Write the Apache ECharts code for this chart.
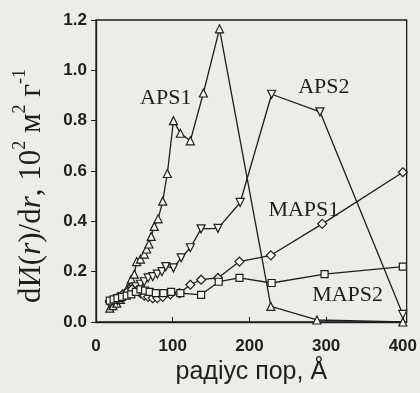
<!DOCTYPE html>
<html>
<head>
<meta charset="utf-8">
<script src="https://cdn.jsdelivr.net/npm/echarts@6/dist/echarts.min.js"></script>
<style>
  html, body { margin: 0; padding: 0; background: #ececea; }
  #chart { width: 420px; height: 393px; }
</style>
</head>
<body>
<div id="chart"></div>
<script>
// радіус пор (Å) vs dV(r)/dr
const aps1 = [[18, 0.055], [22, 0.065], [27, 0.075], [32, 0.09], [37, 0.11], [42, 0.14], [46, 0.17], [50, 0.19],
  [53, 0.24], [58, 0.25], [63, 0.27], [66, 0.29], [69, 0.31], [72, 0.34], [76, 0.38], [81, 0.41], [87, 0.48],
  [93, 0.59], [101, 0.8], [110, 0.75], [123, 0.72], [140, 0.91], [161, 1.165], [228, 0.062], [288, 0.008], [400, 0.0]];
const aps2 = [[18, 0.07], [23, 0.08], [28, 0.085], [34, 0.095], [40, 0.11], [46, 0.13], [52, 0.14], [58, 0.15],
  [63, 0.16], [68, 0.175], [74, 0.18], [80, 0.19], [86, 0.2], [91, 0.22], [101, 0.215], [111, 0.255], [123, 0.295],
  [137, 0.37], [159, 0.372], [188, 0.475], [229, 0.905], [292, 0.835], [400, 0.03]];
const maps1 = [[18, 0.08], [23, 0.09], [29, 0.1], [35, 0.11], [41, 0.12], [47, 0.13], [53, 0.125], [58, 0.115],
  [63, 0.105], [68, 0.1], [74, 0.095], [80, 0.095], [87, 0.1], [97, 0.11], [109, 0.115], [123, 0.148], [137, 0.168],
  [159, 0.175], [187, 0.24], [228, 0.265], [295, 0.39], [400, 0.595]];
const maps2 = [[18, 0.085], [23, 0.09], [28, 0.095], [34, 0.1], [40, 0.105], [46, 0.11], [52, 0.12], [58, 0.13],
  [64, 0.125], [70, 0.12], [78, 0.115], [88, 0.115], [98, 0.12], [110, 0.115], [137, 0.108], [160, 0.16],
  [187, 0.175], [229, 0.155], [298, 0.19], [400, 0.22]];
// where the series names are written (data coords)
const labelPos = { APS1: [91, 0.89], APS2: [297, 0.934], MAPS1: [271, 0.445], MAPS2: [328, 0.107] };

const ink = '#1e1e1e';

function makeSeries(name, data, symbol, size, rotate) {
  return {
    name: name,
    type: 'line',
    data: data,
    symbol: symbol,
    symbolSize: size,
    symbolRotate: rotate || 0,
    showAllSymbol: true,
    lineStyle: { color: ink, width: 1.3 },
    itemStyle: { color: '#f4f4f2', borderColor: ink, borderWidth: 1.2 },
    markPoint: {
      symbol: 'circle',
      symbolSize: 1,
      silent: true,
      itemStyle: { color: 'rgba(0,0,0,0)', borderWidth: 0 },
      data: [{ coord: labelPos[name] }],
      label: {
        show: true,
        position: 'inside',
        formatter: name,
        color: ink,
        fontFamily: 'Liberation Serif',
        fontSize: 22
      }
    }
  };
}

const chart = echarts.init(document.getElementById('chart'));
chart.setOption({
  backgroundColor: '#ececea',
  animation: false,
  grid: { left: 96, right: 13, top: 20, bottom: 71, show: true, borderColor: ink, borderWidth: 1.3, backgroundColor: 'transparent' },
  xAxis: {
    type: 'value',
    min: 0,
    max: 405,
    interval: 100,
    name: 'радіус пор, Å',
    nameLocation: 'middle',
    nameGap: 36,
    nameTextStyle: { color: ink, fontFamily: 'Liberation Sans', fontSize: 25 },
    axisLine: { lineStyle: { color: ink, width: 1.3 } },
    axisTick: { inside: true, length: 5, lineStyle: { color: ink } },
    splitLine: { show: false },
    axisLabel: {
      color: ink,
      fontFamily: 'Liberation Sans',
      fontWeight: 'bold',
      fontSize: 17,
      margin: 16,
      formatter: function (v) { return v % 100 === 0 ? v : ''; }
    }
  },
  yAxis: {
    type: 'value',
    min: 0,
    max: 1.2,
    interval: 0.2,
    axisLine: { show: true, lineStyle: { color: ink, width: 1.3 } },
    axisTick: { show: true, length: 5, lineStyle: { color: ink } },
    splitLine: { show: false },
    axisLabel: {
      color: ink,
      fontFamily: 'Liberation Sans',
      fontWeight: 'bold',
      fontSize: 17,
      margin: 9,
      formatter: function (v) { return v.toFixed(1); }
    }
  },
  graphic: [{
    type: 'text',
    x: 32,
    y: 186,
    rotation: Math.PI / 2,
    style: {
      text: 'dИ({i|r})/d{i|r}, 10{s|2} м{s|2} г{s|-1}',
      fill: ink,
      font: '31px "Liberation Serif"',
      align: 'center',
      verticalAlign: 'middle',
      lineHeight: 42,
      rich: {
        i: { fontStyle: 'italic', fontFamily: 'Liberation Serif', fontSize: 31, fill: ink, lineHeight: 42 },
        s: { fontFamily: 'Liberation Serif', fontSize: 18, verticalAlign: 'top', fill: ink, lineHeight: 20 }
      }
    }
  }],
  series: [
    makeSeries('APS1', aps1, 'triangle', 8),
    makeSeries('APS2', aps2, 'triangle', 8, 180),
    makeSeries('MAPS1', maps1, 'diamond', 9),
    makeSeries('MAPS2', maps2, 'rect', 7)
  ]
});
</script>
</body>
</html>
